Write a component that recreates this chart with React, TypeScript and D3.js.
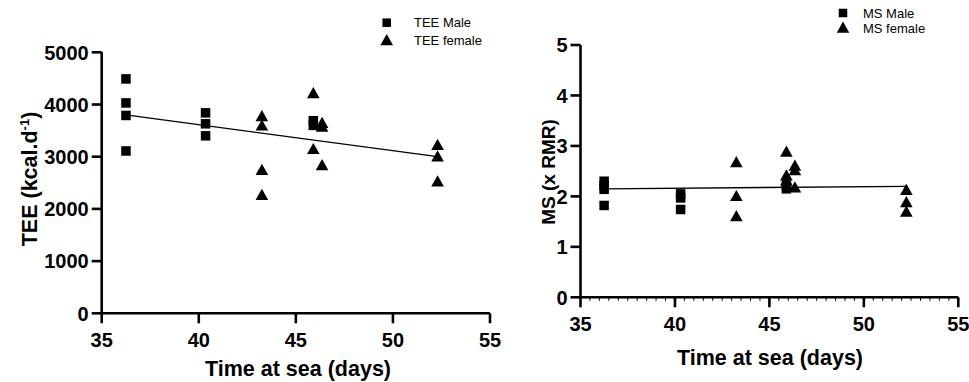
import React from "react";
import * as d3 from "d3";

// ---------- data ----------
const teeMaleDays = [36.25, 36.25, 36.25, 36.25, 40.35, 40.35, 40.35, 45.9, 45.9];
const teeMaleValues = [4490, 4030, 3790, 3110, 3840, 3630, 3400, 3690, 3600];
const teeFemaleDays = [43.25, 43.25, 43.25, 43.25, 45.9, 45.9, 46.35, 46.35, 46.35, 52.3, 52.3, 52.3];
const teeFemaleValues = [3760, 3580, 2730, 2250, 4200, 3130, 3630, 3560, 2820, 3210, 2990, 2510];
const teeTrendDays = [36.25, 52.3];
const teeTrendValues = [3800, 3000];

const msMaleDays = [36.25, 36.25, 36.25, 36.25, 40.3, 40.3, 40.3, 45.9, 45.9];
const msMaleValues = [2.3, 2.22, 2.14, 1.82, 2.05, 1.97, 1.74, 2.22, 2.15];
const msFemaleDays = [43.25, 43.25, 43.25, 45.9, 45.9, 45.9, 46.35, 46.35, 46.35, 52.25, 52.25, 52.25];
const msFemaleValues = [2.66, 1.99, 1.59, 2.87, 2.4, 2.3, 2.59, 2.5, 2.16, 2.11, 1.87, 1.68];
const msTrendDays = [36.25, 52.25];
const msTrendValues = [2.15, 2.2];

const xTicks = [35, 40, 45, 50, 55];
const teeTicks = [0, 1000, 2000, 3000, 4000, 5000];
const msTicks = [0, 1, 2, 3, 4, 5];
const msMinorTicks = d3.range(35, 55.01, 0.5);

const FONT = "'Liberation Sans', Arial, sans-serif";

const Square = ({ x, y, s = 9.5 }: { x: number; y: number; s?: number }) => (
  <rect x={x - s / 2} y={y - s / 2} width={s} height={s} fill="#000" />
);
const Tri = ({ x, y }: { x: number; y: number }) => (
  <path d={`M${x},${y - 7} L${x + 6.3},${y + 4.2} L${x - 6.3},${y + 4.2} Z`} fill="#000" />
);

export default function App() {
  const xL = d3.scaleLinear().domain([35, 55]).range([101.7, 490]);
  const yL = d3.scaleLinear().domain([0, 5000]).range([313.3, 52.3]);
  const xR = d3.scaleLinear().domain([35, 55]).range([580.5, 958.3]);
  const yR = d3.scaleLinear().domain([0, 5]).range([297.3, 45]);

  const line = (xs: number[], ys: number[], sx: any, sy: any) =>
    d3.line<number>().x((_, i) => sx(xs[i])).y((_, i) => sy(ys[i]))(xs.map((_, i) => i)) || "";

  const axisW = 2.6;
  const tickFont = 20;

  return (
    <svg
      width={969}
      height={382}
      style={{ position: "absolute", left: 0, top: 0, background: "#fff" }}
      fontFamily={FONT}
    >
      <rect width={969} height={382} fill="#fff" />

      {/* ---------- LEFT CHART ---------- */}
      <g>
        <line x1={xL(35)} x2={xL(35)} y1={yL(0)} y2={yL(5000)} stroke="#000" strokeWidth={axisW} />
        <line x1={xL(35)} x2={xL(55)} y1={yL(0)} y2={yL(0)} stroke="#000" strokeWidth={axisW} />
        {teeTicks.map((t) => (
          <g key={t}>
            <line x1={xL(35) - 10} x2={xL(35)} y1={yL(t)} y2={yL(t)} stroke="#000" strokeWidth={axisW} />
            <text x={xL(35) - 13} y={yL(t)} dy="0.36em" textAnchor="end" fontSize={tickFont} fontWeight="bold">
              {t}
            </text>
          </g>
        ))}
        {xTicks.map((t) => (
          <g key={t}>
            <line x1={xL(t)} x2={xL(t)} y1={yL(0)} y2={yL(0) + 10} stroke="#000" strokeWidth={axisW} />
            <text x={xL(t)} y={347} textAnchor="middle" fontSize={tickFont} fontWeight="bold">
              {t}
            </text>
          </g>
        ))}
        <path d={line(teeTrendDays, teeTrendValues, xL, yL)} stroke="#000" strokeWidth={1.3} fill="none" />
        {teeMaleDays.map((d, i) => (
          <Square key={"lm" + i} x={xL(d)} y={yL(teeMaleValues[i])} />
        ))}
        {teeFemaleDays.map((d, i) => (
          <Tri key={"lf" + i} x={xL(d)} y={yL(teeFemaleValues[i])} />
        ))}
        <text x={298} y={376} textAnchor="middle" fontSize={21.5} fontWeight="bold">
          Time at sea (days)
        </text>
        <text transform="translate(36.5,179) rotate(-90)" textAnchor="middle" fontSize={21.5} fontWeight="bold">
          TEE (kcal.d
          <tspan fontSize={13} dy={-8}>-1</tspan>
          <tspan dy={8}>)</tspan>
        </text>
        <Square x={386.7} y={22.7} s={8.5} />
        <Tri x={386.7} y={41} />
        <text x={414} y={22.7} dy="0.35em" fontSize={13}>TEE Male</text>
        <text x={414} y={40.7} dy="0.35em" fontSize={13}>TEE female</text>
      </g>

      {/* ---------- RIGHT CHART ---------- */}
      <g>
        <line x1={xR(35)} x2={xR(35)} y1={yR(0)} y2={yR(5)} stroke="#000" strokeWidth={axisW} />
        <line x1={xR(35)} x2={xR(55)} y1={yR(0)} y2={yR(0)} stroke="#000" strokeWidth={axisW} />
        {msMinorTicks.map((t) => (
          <line key={"m" + t} x1={xR(t)} x2={xR(t)} y1={yR(0)} y2={yR(0) + 3.5} stroke="#000" strokeWidth={1} />
        ))}
        {msTicks.map((t) => (
          <g key={t}>
            <line x1={xR(35) - 10} x2={xR(35)} y1={yR(t)} y2={yR(t)} stroke="#000" strokeWidth={axisW} />
            <text x={xR(35) - 13} y={yR(t)} dy="0.36em" textAnchor="end" fontSize={tickFont} fontWeight="bold">
              {t}
            </text>
          </g>
        ))}
        {xTicks.map((t) => (
          <g key={t}>
            <line x1={xR(t)} x2={xR(t)} y1={yR(0)} y2={yR(0) + 10} stroke="#000" strokeWidth={axisW} />
            <text x={xR(t)} y={331} textAnchor="middle" fontSize={tickFont} fontWeight="bold">
              {t}
            </text>
          </g>
        ))}
        <path d={line(msTrendDays, msTrendValues, xR, yR)} stroke="#000" strokeWidth={1.3} fill="none" />
        {msMaleDays.map((d, i) => (
          <Square key={"rm" + i} x={xR(d)} y={yR(msMaleValues[i])} />
        ))}
        {msFemaleDays.map((d, i) => (
          <Tri key={"rf" + i} x={xR(d)} y={yR(msFemaleValues[i])} />
        ))}
        <text x={770} y={365} textAnchor="middle" fontSize={21.5} fontWeight="bold">
          Time at sea (days)
        </text>
        <text transform="translate(555,172) rotate(-90)" textAnchor="middle" fontSize={19} fontWeight="bold">
          MS (x RMR)
        </text>
        <Square x={843} y={13} s={8.5} />
        <Tri x={843} y={28.5} />
        <text x={863} y={13} dy="0.35em" fontSize={13}>MS Male</text>
        <text x={863} y={28.3} dy="0.35em" fontSize={13}>MS female</text>
      </g>
    </svg>
  );
}
